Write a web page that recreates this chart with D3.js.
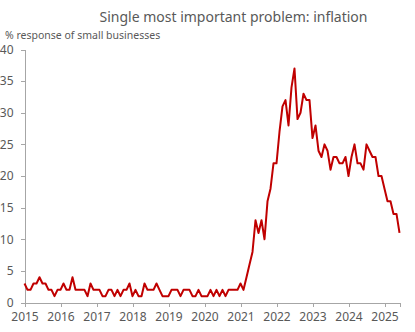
<!DOCTYPE html>
<html lang="en">
<head>
  <meta charset="utf-8">
  <script src="https://d3js.org/d3.v7.min.js"></script>
  <title>Single most important problem: inflation</title>
  <style>
    body { margin: 0; background: #fff; }
    svg text { font-family: "Noto Sans", sans-serif; fill: #595959; }
    .axis path, .axis line { stroke: #a6a6a6; shape-rendering: crispEdges; }
    .axis text { font-size: 12px; }
  </style>
</head>
<body>
<svg id="chart" width="415" height="332"></svg>
<script>
// monthly % of small businesses naming inflation as the single most important problem
var startYear = 2015;
var values = [
  3, 2, 2, 3, 3, 4, 3, 3, 2, 2, 1, 2,        // 2015
  2, 3, 2, 2, 4, 2, 2, 2, 2, 1, 3, 2,        // 2016
  2, 2, 1, 1, 2, 2, 1, 2, 1, 2, 2, 3,        // 2017
  1, 2, 1, 1, 3, 2, 2, 2, 3, 2, 1, 1,        // 2018
  1, 2, 2, 2, 1, 2, 2, 2, 1, 1, 2, 1,        // 2019
  1, 1, 2, 1, 2, 1, 2, 1, 2, 2, 2, 2,        // 2020
  3, 2, 4, 6, 8, 13, 11, 13, 10, 16, 18, 22, // 2021
  22, 27, 31, 32, 28, 34, 37, 29, 30, 33, 32, 32, // 2022
  26, 28, 24, 23, 25, 24, 21, 23, 23, 22, 22, 23, // 2023
  20, 23, 25, 22, 22, 21, 25, 24, 23, 23, 20, 20, // 2024
  18, 16, 16, 14, 14, 11                     // 2025
];
var yearTicks = [2015, 2016, 2017, 2018, 2019, 2020, 2021, 2022, 2023, 2024, 2025];
var yTicks = [0, 5, 10, 15, 20, 25, 30, 35, 40];

var svg = d3.select("#chart");

var x = d3.scaleLinear()
    .domain([startYear, startYear + (values.length - 1) / 12])
    .range([24.5, 399.5]);

var y = d3.scaleLinear()
    .domain([0, 40])
    .range([302.5, 49.5]);

svg.append("g")
    .attr("class", "axis")
    .attr("transform", "translate(0,302.5)")
    .call(d3.axisBottom(x).tickValues(yearTicks).tickFormat(d3.format("d")).tickSizeOuter(0).tickSize(4).tickPadding(6));

svg.append("g")
    .attr("class", "axis")
    .attr("transform", "translate(24.5,0)")
    .call(d3.axisLeft(y).tickValues(yTicks).tickSizeOuter(0).tickSize(4).tickPadding(7));

svg.selectAll(".axis .domain").attr("stroke", "#a6a6a6");

var line = d3.line()
    .x(function(d, i) { return x(startYear + i / 12); })
    .y(function(d) { return y(d); });

svg.append("path")
    .datum(values)
    .attr("fill", "none")
    .attr("stroke", "#c00000")
    .attr("stroke-width", 2)
    .attr("stroke-linejoin", "round")
    .attr("d", line);

svg.append("text")
    .attr("x", 233.5)
    .attr("y", 22)
    .attr("text-anchor", "middle")
    .style("font-size", "14px")
    .text("Single most important problem: inflation");

svg.append("text")
    .attr("x", 5)
    .attr("y", 39)
    .style("font-size", "10.5px")
    .text("% response of small businesses");
</script>
</body>
</html>
